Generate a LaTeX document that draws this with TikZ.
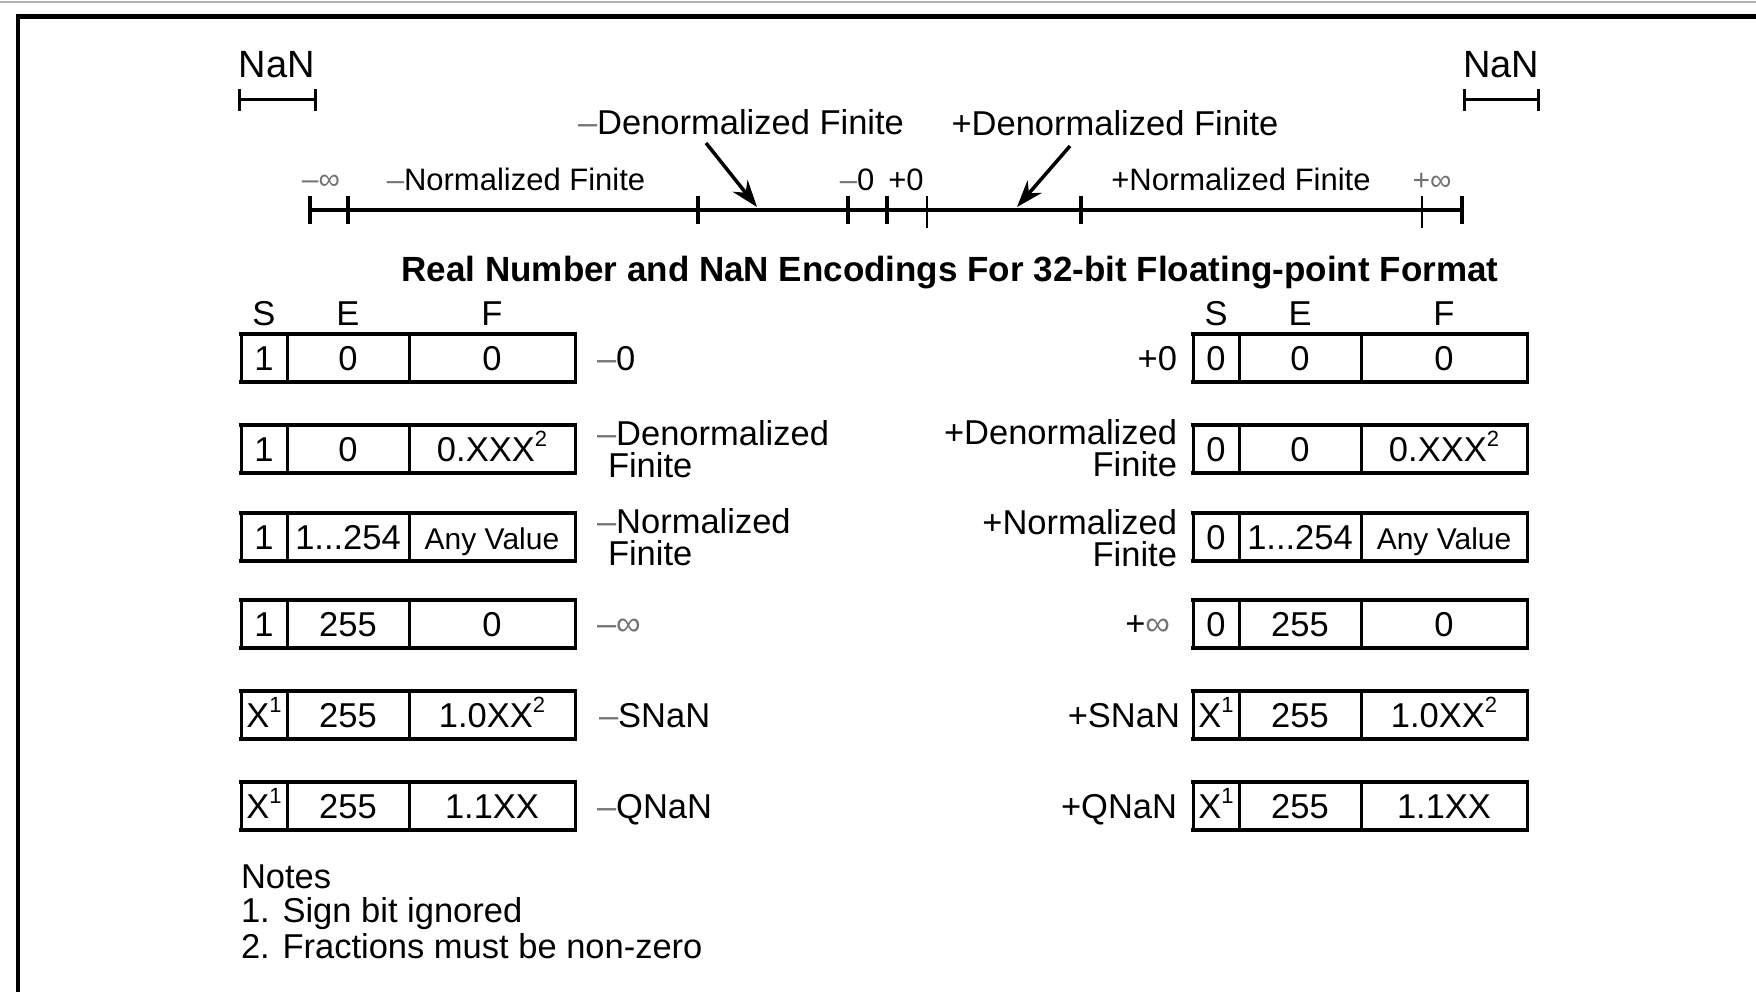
\documentclass[tikz,border=0pt]{standalone}
\usepackage{fontspec}
\setmainfont{Liberation Sans}
\usetikzlibrary{arrows.meta}
\newcommand\mn{{\color{black!55}–}}
\newcommand\inft{{\color{black!55}∞}}
\newcommand\sups[1]{\raisebox{15pt}{\fontsize{22}{22}\selectfont #1}}
\newcommand\encrow[6]{%
  \node[cellS] (#1s) at (#2,#3) {#4};
  \node[cellE] (#1e) at (#1s.east) {#5};
  \node[cellF] (#1f) at (#1e.east) {#6};
  \draw[line width=4.5pt,line cap=rect] (#1s.north west) -- (#1f.north east) (#1s.south west) -- (#1f.south east);
}
\begin{document}
\begin{tikzpicture}[x=1pt,y=-1pt,
  txt/.style={inner sep=0pt, outer sep=0pt, font=\fontsize{34.5}{32}\selectfont},
  sml/.style={inner sep=0pt, outer sep=0pt, font=\fontsize{31}{31}\selectfont},
  cell/.style={draw, line width=3pt, inner sep=0pt, outer sep=0pt, minimum height=48pt,
    text height=25pt, text depth=0pt, font=\fontsize{34.5}{34.5}\selectfont, anchor=west},
  cellS/.style={cell, minimum width=46pt},
  cellE/.style={cell, minimum width=122pt},
  cellF/.style={cell, minimum width=166pt},
  arr/.style={line width=3.5pt, -{Stealth[length=27pt,width=19pt]}},
  bigtick/.style={line width=3.5pt},
  thintick/.style={line width=2pt},
  bracket/.style={line width=3pt}
]
\useasboundingbox (0,0) rectangle (1756,992);
% frame
\draw[black!30, line width=1.5pt] (0,2) -- (1756,2);
\draw[line width=4.5pt] (18,1000) -- (18,16.5) -- (1760,16.5);

% NaN brackets
\node[inner sep=0pt, font=\fontsize{38}{38}\selectfont, anchor=base] (nanL) at (277,78) {NaN};
\node[inner sep=0pt, font=\fontsize{38}{38}\selectfont, anchor=base] (nanR) at (1501,78) {NaN};
\coordinate (bL1) at (239,100); \coordinate (bL2) at (315,100);
\coordinate (bR1) at (1464,100); \coordinate (bR2) at (1538,100);
\draw[bracket] (bL1) -- (bL2) (bL1) ++(0,-11) -- ++(0,22) (bL2) ++(0,-11) -- ++(0,22);
\draw[bracket] (bR1) -- (bR2) (bR1) ++(0,-11) -- ++(0,22) (bR2) ++(0,-11) -- ++(0,22);

% number line
\coordinate (nlL) at (310,210);
\coordinate (nlR) at (1462,210);
\draw[line width=4pt] (nlL) -- (nlR);
\foreach \x in {310,348,698,848,887,1081,1462}
  \draw[bigtick] (\x,196) -- (\x,224);
\foreach \x in {927,1422}
  \draw[thintick] (\x,196) -- (\x,228);

\node[inner sep=0pt, font=\fontsize{30}{30}\selectfont] (nlminf) at (321,182) {{\color{black!55}–∞}};
\node[sml, anchor=base] (nlnorm) at (516,191) {\mn Normalized Finite};
\node[sml, anchor=base] (nlm0) at (857,191) {\mn0};
\node[sml, anchor=base] (nlp0) at (906,191) {+0};
\node[sml, anchor=base] (nlpnorm) at (1241,191) {+Normalized Finite};
\node[inner sep=0pt, font=\fontsize{30}{30}\selectfont] (nlpinf) at (1432,182) {{\color{black!55}+∞}};

\node[txt, anchor=base] (dnm) at (741,135) {\mn Denormalized Finite};
\node[txt, anchor=base] (dnp) at (1115,136) {+Denormalized Finite};
\coordinate (a1tail) at (706,143); \coordinate (a1tip) at (757,207);
\coordinate (a2tail) at (1070,146); \coordinate (a2tip) at (1017,207);
\draw[arr] (a1tail) -- (a1tip);
\draw[arr] (a2tail) -- (a2tip);

% title
\node[inner sep=0pt, font=\bfseries\fontsize{35}{35}\selectfont, anchor=base] (title) at (950,282)
  {Real Number and NaN Encodings For 32-bit Floating-point Format};

% encodings, left
\encrow{L1}{241}{358}{1}{0}{0}
\encrow{L2}{241}{449}{1}{0}{0.XXX\sups{2}}
\encrow{L3}{241}{537}{1}{1...254}{\fontsize{30}{30}\selectfont Any Value}
\encrow{L4}{241}{624}{1}{255}{0}
\encrow{L5}{241}{715}{X\sups{1}}{255}{1.0XX\sups{2}}
\encrow{L6}{241}{806}{X\sups{1}}{255}{1.1XX}
% encodings, right
\encrow{R1}{1193}{358}{0}{0}{0}
\encrow{R2}{1193}{449}{0}{0}{0.XXX\sups{2}}
\encrow{R3}{1193}{537}{0}{1...254}{\fontsize{30}{30}\selectfont Any Value}
\encrow{R4}{1193}{624}{0}{255}{0}
\encrow{R5}{1193}{715}{X\sups{1}}{255}{1.0XX\sups{2}}
\encrow{R6}{1193}{806}{X\sups{1}}{255}{1.1XX}

% headers
\foreach \r in {L1,R1} {
  \node[txt, anchor=base] (\r hs) at ([yshift=9pt]\r s.north) {S};
  \node[txt, anchor=base] (\r he) at ([yshift=9pt]\r e.north) {E};
  \node[txt, anchor=base] (\r hf) at ([yshift=9pt]\r f.north) {F};
}

% left labels
\node[txt, anchor=base west] (Ll1) at (597,370) {\mn0};
\node[txt, anchor=west, align=left] (Ll2) at (597,449) {\mn Denormalized\\\hspace*{11pt}Finite};
\node[txt, anchor=west, align=left] (Ll3) at (597,537) {\mn Normalized\\\hspace*{11pt}Finite};
\node[txt, anchor=west] (Ll4) at (597,627) {\mn\inft};
\node[txt, anchor=base west] (Ll5) at (599,727) {\mn SNaN};
\node[txt, anchor=base west] (Ll6) at (597,818) {\mn QNaN};
% right labels
\node[txt, anchor=base east] (Rl1) at (1177,370) {+0};
\node[txt, anchor=east, align=right] (Rl2) at (1177,448) {+Denormalized\\Finite};
\node[txt, anchor=east, align=right] (Rl3) at (1177,538) {+Normalized\\Finite};
\node[txt, anchor=east] (Rl4) at (1170,626) {+\inft};
\node[txt, anchor=base east] (Rl5) at (1180,727) {+SNaN};
\node[txt, anchor=base east] (Rl6) at (1177,818) {+QNaN};

% notes
\node[txt, anchor=base west] (n0) at (241,888) {Notes};
\node[txt, anchor=base west] (n1) at (241,922) {1. Sign bit ignored};
\node[txt, anchor=base west] (n2) at (241,958) {2. Fractions must be non-zero};
\end{tikzpicture}
\end{document}
